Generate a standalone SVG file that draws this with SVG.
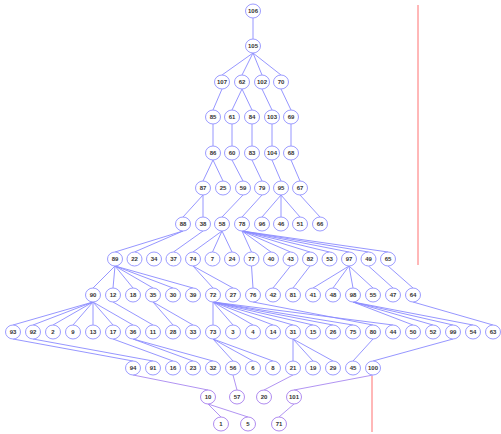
<svg xmlns="http://www.w3.org/2000/svg" width="501" height="434" viewBox="0 0 501 434">
<style>
.n ellipse{fill:#fff;stroke:#9c9cff;stroke-width:1}
.n text{font-family:"Liberation Sans",Arial,sans-serif;font-size:6px;font-weight:bold;fill:#333;text-anchor:middle;dominant-baseline:central}
.p ellipse{stroke:#b08cf0}
#edges line{stroke:#8a8aff;stroke-width:0.9}
#edges line.v{stroke:#a888f0}
.red{stroke:#ff7070;stroke-width:1}
</style>
<line class="red" x1="418" y1="5" x2="418" y2="265"/>
<line class="red" x1="372" y1="376" x2="372" y2="432"/>
<g id="edges">
<line x1="253" y1="18" x2="253" y2="39"/>
<line x1="253" y1="53" x2="222" y2="75"/>
<line x1="253" y1="53" x2="242" y2="75"/>
<line x1="253" y1="53" x2="262" y2="75"/>
<line x1="253" y1="53" x2="281" y2="75"/>
<line x1="222" y1="89" x2="213" y2="110"/>
<line x1="242" y1="89" x2="232" y2="110"/>
<line x1="242" y1="89" x2="252" y2="110"/>
<line x1="262" y1="89" x2="272" y2="110"/>
<line x1="281" y1="89" x2="291" y2="110"/>
<line x1="213" y1="124" x2="213" y2="146"/>
<line x1="232" y1="124" x2="232" y2="146"/>
<line x1="252" y1="124" x2="252" y2="146"/>
<line x1="272" y1="124" x2="272" y2="146"/>
<line x1="291" y1="124" x2="291" y2="146"/>
<line x1="213" y1="160" x2="203" y2="181"/>
<line x1="213" y1="160" x2="223" y2="181"/>
<line x1="232" y1="160" x2="243" y2="181"/>
<line x1="252" y1="160" x2="262" y2="181"/>
<line x1="272" y1="160" x2="281" y2="181"/>
<line x1="291" y1="160" x2="300" y2="181"/>
<line x1="203" y1="195" x2="183" y2="217"/>
<line x1="203" y1="195" x2="203" y2="217"/>
<line x1="243" y1="195" x2="222" y2="217"/>
<line x1="262" y1="195" x2="242" y2="217"/>
<line x1="281" y1="195" x2="262" y2="217"/>
<line x1="281" y1="195" x2="281" y2="217"/>
<line x1="281" y1="195" x2="300" y2="217"/>
<line x1="300" y1="195" x2="320" y2="217"/>
<line x1="183" y1="231" x2="115" y2="252"/>
<line x1="183" y1="231" x2="134.5" y2="252"/>
<line x1="203" y1="231" x2="173.5" y2="252"/>
<line x1="222" y1="231" x2="193" y2="252"/>
<line x1="222" y1="231" x2="212.5" y2="252"/>
<line x1="222" y1="231" x2="232" y2="252"/>
<line x1="242" y1="231" x2="251.5" y2="252"/>
<line x1="242" y1="231" x2="271" y2="252"/>
<line x1="242" y1="231" x2="290.5" y2="252"/>
<line x1="242" y1="231" x2="310" y2="252"/>
<line x1="242" y1="231" x2="329.5" y2="252"/>
<line x1="242" y1="231" x2="349" y2="252"/>
<line x1="242" y1="231" x2="368.5" y2="252"/>
<line x1="242" y1="231" x2="388" y2="252"/>
<line x1="115" y1="266" x2="93" y2="288"/>
<line x1="115" y1="266" x2="113" y2="288"/>
<line x1="115" y1="266" x2="133" y2="288"/>
<line x1="115" y1="266" x2="153" y2="288"/>
<line x1="115" y1="266" x2="173" y2="288"/>
<line x1="115" y1="266" x2="193" y2="288"/>
<line x1="193" y1="266" x2="213" y2="288"/>
<line x1="193" y1="266" x2="233" y2="288"/>
<line x1="251.5" y1="266" x2="253" y2="288"/>
<line x1="290.5" y1="266" x2="273" y2="288"/>
<line x1="310" y1="266" x2="293" y2="288"/>
<line x1="349" y1="266" x2="313" y2="288"/>
<line x1="349" y1="266" x2="333" y2="288"/>
<line x1="349" y1="266" x2="353" y2="288"/>
<line x1="349" y1="266" x2="373" y2="288"/>
<line x1="368.5" y1="266" x2="393" y2="288"/>
<line x1="388" y1="266" x2="413" y2="288"/>
<line x1="93" y1="302" x2="13" y2="325"/>
<line x1="93" y1="302" x2="33" y2="325"/>
<line x1="93" y1="302" x2="53" y2="325"/>
<line x1="93" y1="302" x2="73" y2="325"/>
<line x1="93" y1="302" x2="93" y2="325"/>
<line x1="93" y1="302" x2="113" y2="325"/>
<line x1="93" y1="302" x2="133" y2="325"/>
<line x1="113" y1="302" x2="153" y2="325"/>
<line x1="153" y1="302" x2="173" y2="325"/>
<line x1="153" y1="302" x2="193" y2="325"/>
<line x1="213" y1="302" x2="213" y2="325"/>
<line x1="213" y1="302" x2="233" y2="325"/>
<line x1="213" y1="302" x2="253" y2="325"/>
<line x1="213" y1="302" x2="273" y2="325"/>
<line x1="213" y1="302" x2="293" y2="325"/>
<line x1="213" y1="302" x2="313" y2="325"/>
<line x1="213" y1="302" x2="333" y2="325"/>
<line x1="213" y1="302" x2="353" y2="325"/>
<line x1="213" y1="302" x2="393" y2="325"/>
<line x1="253" y1="302" x2="373" y2="325"/>
<line x1="353" y1="302" x2="413" y2="325"/>
<line x1="353" y1="302" x2="433" y2="325"/>
<line x1="353" y1="302" x2="453" y2="325"/>
<line x1="353" y1="302" x2="473" y2="325"/>
<line x1="413" y1="302" x2="493" y2="325"/>
<line x1="13" y1="339" x2="133" y2="361"/>
<line x1="33" y1="339" x2="153" y2="361"/>
<line x1="113" y1="339" x2="173" y2="361"/>
<line x1="133" y1="339" x2="193" y2="361"/>
<line x1="133" y1="339" x2="213" y2="361"/>
<line x1="213" y1="339" x2="233" y2="361"/>
<line x1="213" y1="339" x2="253" y2="361"/>
<line x1="213" y1="339" x2="273" y2="361"/>
<line x1="293" y1="339" x2="293" y2="361"/>
<line x1="293" y1="339" x2="313" y2="361"/>
<line x1="293" y1="339" x2="333" y2="361"/>
<line x1="373" y1="339" x2="353" y2="361"/>
<line x1="453" y1="339" x2="373" y2="361"/>
<line class="v" x1="133" y1="375" x2="208" y2="390"/>
<line class="v" x1="233" y1="375" x2="237" y2="390"/>
<line class="v" x1="293" y1="375" x2="264" y2="390"/>
<line class="v" x1="373" y1="375" x2="294" y2="390"/>
<line class="v" x1="208" y1="404" x2="221" y2="417"/>
<line class="v" x1="208" y1="404" x2="248" y2="417"/>
<line class="v" x1="294" y1="404" x2="279" y2="417"/>
</g>
<g id="n106" class="n"><ellipse cx="253" cy="11" rx="7.5" ry="7"/><text x="253" y="11">106</text></g>
<g id="n105" class="n"><ellipse cx="253" cy="46" rx="7.5" ry="7"/><text x="253" y="46">105</text></g>
<g id="n107" class="n"><ellipse cx="222" cy="82" rx="7.5" ry="7"/><text x="222" y="82">107</text></g>
<g id="n62" class="n"><ellipse cx="242" cy="82" rx="7.5" ry="7"/><text x="242" y="82">62</text></g>
<g id="n102" class="n"><ellipse cx="262" cy="82" rx="7.5" ry="7"/><text x="262" y="82">102</text></g>
<g id="n70" class="n"><ellipse cx="281" cy="82" rx="7.5" ry="7"/><text x="281" y="82">70</text></g>
<g id="n85" class="n"><ellipse cx="213" cy="117" rx="7.5" ry="7"/><text x="213" y="117">85</text></g>
<g id="n61" class="n"><ellipse cx="232" cy="117" rx="7.5" ry="7"/><text x="232" y="117">61</text></g>
<g id="n84" class="n"><ellipse cx="252" cy="117" rx="7.5" ry="7"/><text x="252" y="117">84</text></g>
<g id="n103" class="n"><ellipse cx="272" cy="117" rx="7.5" ry="7"/><text x="272" y="117">103</text></g>
<g id="n69" class="n"><ellipse cx="291" cy="117" rx="7.5" ry="7"/><text x="291" y="117">69</text></g>
<g id="n86" class="n"><ellipse cx="213" cy="153" rx="7.5" ry="7"/><text x="213" y="153">86</text></g>
<g id="n60" class="n"><ellipse cx="232" cy="153" rx="7.5" ry="7"/><text x="232" y="153">60</text></g>
<g id="n83" class="n"><ellipse cx="252" cy="153" rx="7.5" ry="7"/><text x="252" y="153">83</text></g>
<g id="n104" class="n"><ellipse cx="272" cy="153" rx="7.5" ry="7"/><text x="272" y="153">104</text></g>
<g id="n68" class="n"><ellipse cx="291" cy="153" rx="7.5" ry="7"/><text x="291" y="153">68</text></g>
<g id="n87" class="n"><ellipse cx="203" cy="188" rx="7.5" ry="7"/><text x="203" y="188">87</text></g>
<g id="n25" class="n"><ellipse cx="223" cy="188" rx="7.5" ry="7"/><text x="223" y="188">25</text></g>
<g id="n59" class="n"><ellipse cx="243" cy="188" rx="7.5" ry="7"/><text x="243" y="188">59</text></g>
<g id="n79" class="n"><ellipse cx="262" cy="188" rx="7.5" ry="7"/><text x="262" y="188">79</text></g>
<g id="n95" class="n"><ellipse cx="281" cy="188" rx="7.5" ry="7"/><text x="281" y="188">95</text></g>
<g id="n67" class="n"><ellipse cx="300" cy="188" rx="7.5" ry="7"/><text x="300" y="188">67</text></g>
<g id="n88" class="n"><ellipse cx="183" cy="224" rx="7.5" ry="7"/><text x="183" y="224">88</text></g>
<g id="n38" class="n"><ellipse cx="203" cy="224" rx="7.5" ry="7"/><text x="203" y="224">38</text></g>
<g id="n58" class="n"><ellipse cx="222" cy="224" rx="7.5" ry="7"/><text x="222" y="224">58</text></g>
<g id="n78" class="n"><ellipse cx="242" cy="224" rx="7.5" ry="7"/><text x="242" y="224">78</text></g>
<g id="n96" class="n"><ellipse cx="262" cy="224" rx="7.5" ry="7"/><text x="262" y="224">96</text></g>
<g id="n46" class="n"><ellipse cx="281" cy="224" rx="7.5" ry="7"/><text x="281" y="224">46</text></g>
<g id="n51" class="n"><ellipse cx="300" cy="224" rx="7.5" ry="7"/><text x="300" y="224">51</text></g>
<g id="n66" class="n"><ellipse cx="320" cy="224" rx="7.5" ry="7"/><text x="320" y="224">66</text></g>
<g id="n89" class="n"><ellipse cx="115" cy="259" rx="7.5" ry="7"/><text x="115" y="259">89</text></g>
<g id="n22" class="n"><ellipse cx="134.5" cy="259" rx="7.5" ry="7"/><text x="134.5" y="259">22</text></g>
<g id="n34" class="n"><ellipse cx="154" cy="259" rx="7.5" ry="7"/><text x="154" y="259">34</text></g>
<g id="n37" class="n"><ellipse cx="173.5" cy="259" rx="7.5" ry="7"/><text x="173.5" y="259">37</text></g>
<g id="n74" class="n"><ellipse cx="193" cy="259" rx="7.5" ry="7"/><text x="193" y="259">74</text></g>
<g id="n7" class="n"><ellipse cx="212.5" cy="259" rx="7.5" ry="7"/><text x="212.5" y="259">7</text></g>
<g id="n24" class="n"><ellipse cx="232" cy="259" rx="7.5" ry="7"/><text x="232" y="259">24</text></g>
<g id="n77" class="n"><ellipse cx="251.5" cy="259" rx="7.5" ry="7"/><text x="251.5" y="259">77</text></g>
<g id="n40" class="n"><ellipse cx="271" cy="259" rx="7.5" ry="7"/><text x="271" y="259">40</text></g>
<g id="n43" class="n"><ellipse cx="290.5" cy="259" rx="7.5" ry="7"/><text x="290.5" y="259">43</text></g>
<g id="n82" class="n"><ellipse cx="310" cy="259" rx="7.5" ry="7"/><text x="310" y="259">82</text></g>
<g id="n53" class="n"><ellipse cx="329.5" cy="259" rx="7.5" ry="7"/><text x="329.5" y="259">53</text></g>
<g id="n97" class="n"><ellipse cx="349" cy="259" rx="7.5" ry="7"/><text x="349" y="259">97</text></g>
<g id="n49" class="n"><ellipse cx="368.5" cy="259" rx="7.5" ry="7"/><text x="368.5" y="259">49</text></g>
<g id="n65" class="n"><ellipse cx="388" cy="259" rx="7.5" ry="7"/><text x="388" y="259">65</text></g>
<g id="n90" class="n"><ellipse cx="93" cy="295" rx="7.5" ry="7"/><text x="93" y="295">90</text></g>
<g id="n12" class="n"><ellipse cx="113" cy="295" rx="7.5" ry="7"/><text x="113" y="295">12</text></g>
<g id="n18" class="n"><ellipse cx="133" cy="295" rx="7.5" ry="7"/><text x="133" y="295">18</text></g>
<g id="n35" class="n"><ellipse cx="153" cy="295" rx="7.5" ry="7"/><text x="153" y="295">35</text></g>
<g id="n30" class="n"><ellipse cx="173" cy="295" rx="7.5" ry="7"/><text x="173" y="295">30</text></g>
<g id="n39" class="n"><ellipse cx="193" cy="295" rx="7.5" ry="7"/><text x="193" y="295">39</text></g>
<g id="n72" class="n"><ellipse cx="213" cy="295" rx="7.5" ry="7"/><text x="213" y="295">72</text></g>
<g id="n27" class="n"><ellipse cx="233" cy="295" rx="7.5" ry="7"/><text x="233" y="295">27</text></g>
<g id="n76" class="n"><ellipse cx="253" cy="295" rx="7.5" ry="7"/><text x="253" y="295">76</text></g>
<g id="n42" class="n"><ellipse cx="273" cy="295" rx="7.5" ry="7"/><text x="273" y="295">42</text></g>
<g id="n81" class="n"><ellipse cx="293" cy="295" rx="7.5" ry="7"/><text x="293" y="295">81</text></g>
<g id="n41" class="n"><ellipse cx="313" cy="295" rx="7.5" ry="7"/><text x="313" y="295">41</text></g>
<g id="n48" class="n"><ellipse cx="333" cy="295" rx="7.5" ry="7"/><text x="333" y="295">48</text></g>
<g id="n98" class="n"><ellipse cx="353" cy="295" rx="7.5" ry="7"/><text x="353" y="295">98</text></g>
<g id="n55" class="n"><ellipse cx="373" cy="295" rx="7.5" ry="7"/><text x="373" y="295">55</text></g>
<g id="n47" class="n"><ellipse cx="393" cy="295" rx="7.5" ry="7"/><text x="393" y="295">47</text></g>
<g id="n64" class="n"><ellipse cx="413" cy="295" rx="7.5" ry="7"/><text x="413" y="295">64</text></g>
<g id="n93" class="n"><ellipse cx="13" cy="332" rx="7.5" ry="7"/><text x="13" y="332">93</text></g>
<g id="n92" class="n"><ellipse cx="33" cy="332" rx="7.5" ry="7"/><text x="33" y="332">92</text></g>
<g id="n2" class="n"><ellipse cx="53" cy="332" rx="7.5" ry="7"/><text x="53" y="332">2</text></g>
<g id="n9" class="n"><ellipse cx="73" cy="332" rx="7.5" ry="7"/><text x="73" y="332">9</text></g>
<g id="n13" class="n"><ellipse cx="93" cy="332" rx="7.5" ry="7"/><text x="93" y="332">13</text></g>
<g id="n17" class="n"><ellipse cx="113" cy="332" rx="7.5" ry="7"/><text x="113" y="332">17</text></g>
<g id="n36" class="n"><ellipse cx="133" cy="332" rx="7.5" ry="7"/><text x="133" y="332">36</text></g>
<g id="n11" class="n"><ellipse cx="153" cy="332" rx="7.5" ry="7"/><text x="153" y="332">11</text></g>
<g id="n28" class="n"><ellipse cx="173" cy="332" rx="7.5" ry="7"/><text x="173" y="332">28</text></g>
<g id="n33" class="n"><ellipse cx="193" cy="332" rx="7.5" ry="7"/><text x="193" y="332">33</text></g>
<g id="n73" class="n"><ellipse cx="213" cy="332" rx="7.5" ry="7"/><text x="213" y="332">73</text></g>
<g id="n3" class="n"><ellipse cx="233" cy="332" rx="7.5" ry="7"/><text x="233" y="332">3</text></g>
<g id="n4" class="n"><ellipse cx="253" cy="332" rx="7.5" ry="7"/><text x="253" y="332">4</text></g>
<g id="n14" class="n"><ellipse cx="273" cy="332" rx="7.5" ry="7"/><text x="273" y="332">14</text></g>
<g id="n31" class="n"><ellipse cx="293" cy="332" rx="7.5" ry="7"/><text x="293" y="332">31</text></g>
<g id="n15" class="n"><ellipse cx="313" cy="332" rx="7.5" ry="7"/><text x="313" y="332">15</text></g>
<g id="n26" class="n"><ellipse cx="333" cy="332" rx="7.5" ry="7"/><text x="333" y="332">26</text></g>
<g id="n75" class="n"><ellipse cx="353" cy="332" rx="7.5" ry="7"/><text x="353" y="332">75</text></g>
<g id="n80" class="n"><ellipse cx="373" cy="332" rx="7.5" ry="7"/><text x="373" y="332">80</text></g>
<g id="n44" class="n"><ellipse cx="393" cy="332" rx="7.5" ry="7"/><text x="393" y="332">44</text></g>
<g id="n50" class="n"><ellipse cx="413" cy="332" rx="7.5" ry="7"/><text x="413" y="332">50</text></g>
<g id="n52" class="n"><ellipse cx="433" cy="332" rx="7.5" ry="7"/><text x="433" y="332">52</text></g>
<g id="n99" class="n"><ellipse cx="453" cy="332" rx="7.5" ry="7"/><text x="453" y="332">99</text></g>
<g id="n54" class="n"><ellipse cx="473" cy="332" rx="7.5" ry="7"/><text x="473" y="332">54</text></g>
<g id="n63" class="n"><ellipse cx="493" cy="332" rx="7.5" ry="7"/><text x="493" y="332">63</text></g>
<g id="n94" class="n"><ellipse cx="133" cy="368" rx="7.5" ry="7"/><text x="133" y="368">94</text></g>
<g id="n91" class="n"><ellipse cx="153" cy="368" rx="7.5" ry="7"/><text x="153" y="368">91</text></g>
<g id="n16" class="n"><ellipse cx="173" cy="368" rx="7.5" ry="7"/><text x="173" y="368">16</text></g>
<g id="n23" class="n"><ellipse cx="193" cy="368" rx="7.5" ry="7"/><text x="193" y="368">23</text></g>
<g id="n32" class="n"><ellipse cx="213" cy="368" rx="7.5" ry="7"/><text x="213" y="368">32</text></g>
<g id="n56" class="n"><ellipse cx="233" cy="368" rx="7.5" ry="7"/><text x="233" y="368">56</text></g>
<g id="n6" class="n"><ellipse cx="253" cy="368" rx="7.5" ry="7"/><text x="253" y="368">6</text></g>
<g id="n8" class="n"><ellipse cx="273" cy="368" rx="7.5" ry="7"/><text x="273" y="368">8</text></g>
<g id="n21" class="n"><ellipse cx="293" cy="368" rx="7.5" ry="7"/><text x="293" y="368">21</text></g>
<g id="n19" class="n"><ellipse cx="313" cy="368" rx="7.5" ry="7"/><text x="313" y="368">19</text></g>
<g id="n29" class="n"><ellipse cx="333" cy="368" rx="7.5" ry="7"/><text x="333" y="368">29</text></g>
<g id="n45" class="n"><ellipse cx="353" cy="368" rx="7.5" ry="7"/><text x="353" y="368">45</text></g>
<g id="n100" class="n"><ellipse cx="373" cy="368" rx="7.5" ry="7"/><text x="373" y="368">100</text></g>
<g id="n10" class="n p"><ellipse cx="208" cy="397" rx="7.5" ry="7"/><text x="208" y="397">10</text></g>
<g id="n57" class="n p"><ellipse cx="237" cy="397" rx="7.5" ry="7"/><text x="237" y="397">57</text></g>
<g id="n20" class="n p"><ellipse cx="264" cy="397" rx="7.5" ry="7"/><text x="264" y="397">20</text></g>
<g id="n101" class="n p"><ellipse cx="294" cy="397" rx="7.5" ry="7"/><text x="294" y="397">101</text></g>
<g id="n1" class="n p"><ellipse cx="221" cy="424" rx="7.5" ry="7"/><text x="221" y="424">1</text></g>
<g id="n5" class="n p"><ellipse cx="248" cy="424" rx="7.5" ry="7"/><text x="248" y="424">5</text></g>
<g id="n71" class="n p"><ellipse cx="279" cy="424" rx="7.5" ry="7"/><text x="279" y="424">71</text></g>
</svg>
